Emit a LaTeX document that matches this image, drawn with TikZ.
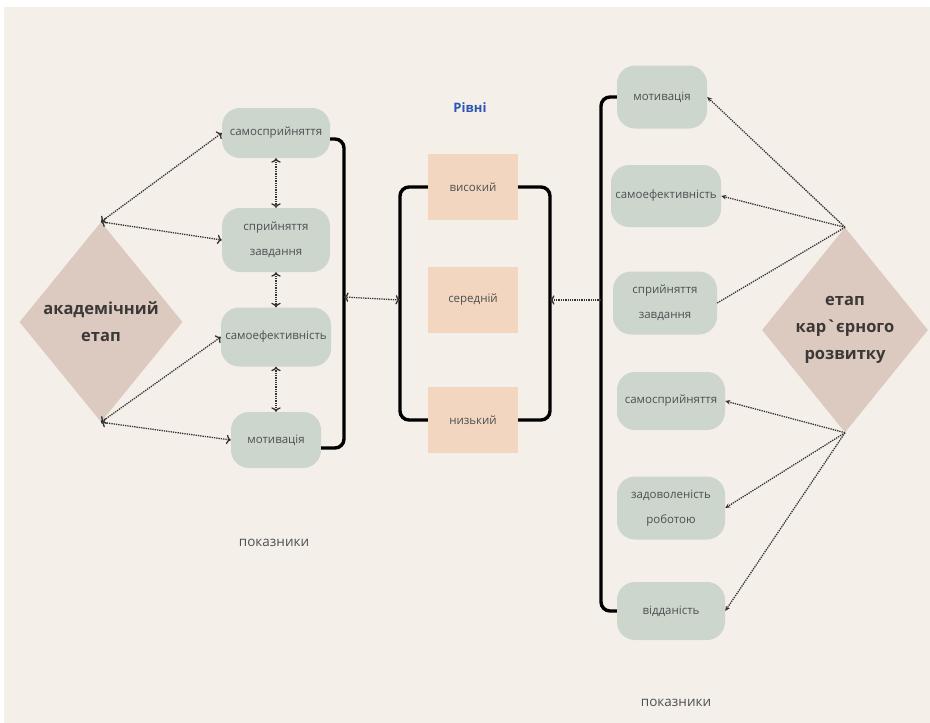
\documentclass[tikz,border=0pt]{standalone}
\usepackage{fontspec}
\setmainfont{Open Sans}
\usetikzlibrary{shapes.geometric,arrows.meta}
\definecolor{panelbg}{HTML}{F4EFE9}
\definecolor{boxgreen}{HTML}{CDD6CC}
\definecolor{peach}{HTML}{F3D6BF}
\definecolor{diafill}{HTML}{DCCAC0}
\definecolor{txtgray}{HTML}{4C4F51}
\definecolor{diatxt}{HTML}{3B3836}
\definecolor{lvlblue}{HTML}{2B55B5}
\definecolor{dotcol}{HTML}{333333}
\tikzset{
  ind/.style={fill=boxgreen, rounded corners=18pt, inner sep=0pt, align=center,
    text=txtgray, font=\fontsize{11.5}{25}\selectfont},
  lvl/.style={fill=peach, inner sep=0pt, minimum width=90pt, minimum height=66pt,
    text=txtgray, font=\fontsize{11.5}{14}\selectfont},
  stage/.style={diamond, fill=diafill, inner sep=0pt, align=center, text=diatxt,
    font=\fontsize{16.5}{27}\selectfont\bfseries},
  brk/.style={line width=3.4pt, black, rounded corners=9pt},
  dotarr/.style={densely dotted, line width=1.3pt, dotcol,
    arrows={-Stealth[length=5pt,width=4.5pt]}},
  lbl/.style={text=txtgray, font=\fontsize{13.5}{16}\selectfont}
}
\begin{document}
\begin{tikzpicture}[x=1pt,y=-1pt]
\useasboundingbox (0,0) rectangle (930,723);
\fill[white] (0,0) rectangle (930,723);
\fill[panelbg] (4,7) rectangle (930,723);

% left indicators
\node[ind, minimum width=108pt, minimum height=50pt] (L1) at (276,133) {самосприйняття};
\node[ind, minimum width=108pt, minimum height=64pt] (L2) at (276,240) {сприйняття\\завдання};
\node[ind, minimum width=110pt, minimum height=59pt] (L3) at (276,337) {самоефективність};
\node[ind, minimum width=90pt, minimum height=56pt] (L4) at (276,440) {мотивація};

% levels
\node[text=lvlblue, font=\fontsize{13}{15}\selectfont\bfseries] (title) at (470,108) {Рівні};
\node[lvl] (V) at (473,187) {високий};
\node[lvl] (S) at (473,300) {середній};
\node[lvl] (N) at (473,420) {низький};

% right indicators
\node[ind, minimum width=90pt, minimum height=63pt] (R1) at (662,97) {мотивація};
\node[ind, minimum width=110pt, minimum height=62pt] (R2) at (666,196) {самоефективність};
\node[ind, minimum width=104pt, minimum height=63pt] (R3) at (665,303) {сприйняття\\завдання};
\node[ind, minimum width=108pt, minimum height=58pt] (R4) at (671,401) {самосприйняття};
\node[ind, minimum width=108pt, minimum height=63pt] (R5) at (671,508) {задоволеність\\роботою};
\node[ind, minimum width=108pt, minimum height=58pt] (R6) at (671,611) {відданість};

% stages
\node[stage, minimum width=163pt, minimum height=200pt] (DL) at (101,322) {академічний\\етап};
\node[stage, minimum width=164pt, minimum height=205pt] (DR) at (845,330) {етап\\кар\textasciigrave єрного\\розвитку};

% labels
\node[lbl] (pl) at (274,543) {показники};
\node[lbl] (pr) at (676,703) {показники};

% brackets
\coordinate (lb) at (344,297);
\coordinate (cbl) at (400,300);
\coordinate (cbr) at (550,300);
\coordinate (rb) at (601,300);
\draw[brk] ([yshift=-6pt]L1.east) -| (lb) |- ([yshift=-8pt]L4.east);
\draw[brk] (V.west) -| (cbl) |- (N.west);
\draw[brk] (V.east) -| (cbr) |- (N.east);
\draw[brk] (R1.west) -| (rb) |- (R6.west);

% connectors
\draw[dotarr, <->] (cbl) -- (lb);
\draw[dotarr, ->] (rb) -- (cbr);
\draw[dotarr, <->] (L1.south) -- (L2.north);
\draw[dotarr, <->] (L2.south) -- (L3.north);
\draw[dotarr, <->] (L3.south) -- (L4.north);
\draw[dotarr, <->] (DL.north) -- (L1.west);
\draw[dotarr, <->] (DL.north) -- (L2.west);
\draw[dotarr, <->] (DL.south) -- (L3.west);
\draw[dotarr, <->] (DL.south) -- (L4.west);
\draw[dotarr] (DR.north) -- (R1.east);
\draw[dotarr] (DR.north) -- (R2.east);
\draw[dotarr, -] (DR.north) -- (R3.east);
\draw[dotarr] (DR.south) -- (R4.east);
\draw[dotarr] (DR.south) -- (R5.east);
\draw[dotarr] (DR.south) -- (R6.east);
\end{tikzpicture}
\end{document}
